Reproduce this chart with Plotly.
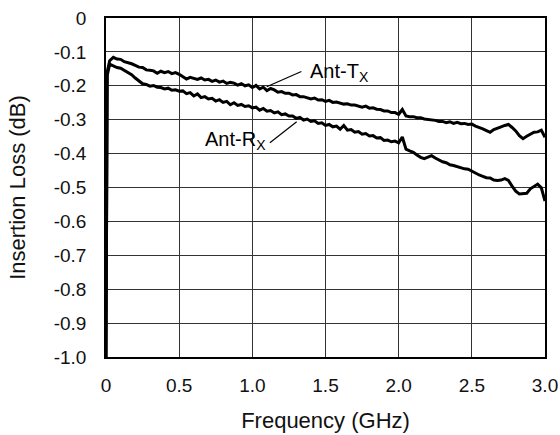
import plotly.graph_objects as go

FREQ = [0.0, 0.008,
        0.025, 0.05, 0.075, 0.10, 0.125, 0.15, 0.175, 0.20, 0.225, 0.25,
        0.275, 0.30, 0.325, 0.35, 0.375, 0.40, 0.425, 0.45, 0.475, 0.50,
        0.525, 0.55, 0.575, 0.60, 0.625, 0.65, 0.675, 0.70, 0.725, 0.75,
        0.775, 0.80, 0.825, 0.85, 0.875, 0.90, 0.925, 0.95, 0.975, 1.00,
        1.025, 1.05, 1.075, 1.10, 1.125, 1.15, 1.175, 1.20, 1.225, 1.25,
        1.275, 1.30, 1.325, 1.35, 1.375, 1.40, 1.425, 1.45, 1.475, 1.50,
        1.525, 1.55, 1.575, 1.60, 1.625, 1.65, 1.675, 1.70, 1.725, 1.75,
        1.775, 1.80, 1.825, 1.85, 1.875, 1.90, 1.925, 1.95, 1.975, 2.00,
        2.025, 2.05, 2.075, 2.10, 2.125, 2.15, 2.175, 2.20, 2.225, 2.25,
        2.275, 2.30, 2.325, 2.35, 2.375, 2.40, 2.425, 2.45, 2.475, 2.50,
        2.525, 2.55, 2.575, 2.60, 2.625, 2.65, 2.675, 2.70, 2.725, 2.75,
        2.775, 2.80, 2.825, 2.85, 2.875, 2.90, 2.925, 2.95, 2.975, 3.00]

ANT_TX = [-1.0, -0.16,
          -0.126, -0.116, -0.121, -0.122, -0.129, -0.131, -0.135, -0.140, -0.145, -0.146,
          -0.153, -0.154, -0.156, -0.163, -0.157, -0.161, -0.158, -0.164, -0.161, -0.166,
          -0.172, -0.180, -0.175, -0.178, -0.181, -0.177, -0.183, -0.181, -0.187, -0.183,
          -0.189, -0.186, -0.193, -0.190, -0.192, -0.198, -0.194, -0.200, -0.197, -0.205,
          -0.199, -0.209, -0.204, -0.214, -0.208, -0.212, -0.219, -0.217, -0.222, -0.222,
          -0.227, -0.226, -0.232, -0.232, -0.235, -0.239, -0.236, -0.242, -0.241, -0.246,
          -0.243, -0.249, -0.248, -0.251, -0.254, -0.253, -0.257, -0.257, -0.259, -0.263,
          -0.260, -0.266, -0.265, -0.269, -0.270, -0.274, -0.274, -0.279, -0.279, -0.284,
          -0.270, -0.289, -0.291, -0.291, -0.294, -0.294, -0.298, -0.299, -0.302, -0.302,
          -0.305, -0.305, -0.309, -0.306, -0.311, -0.308, -0.312, -0.311, -0.314, -0.313,
          -0.319, -0.322, -0.327, -0.332, -0.337, -0.329, -0.326, -0.321, -0.317, -0.314,
          -0.323, -0.333, -0.347, -0.356, -0.349, -0.342, -0.337, -0.336, -0.331, -0.352]

ANT_RX = [-1.0, -0.17,
          -0.136, -0.141, -0.146, -0.148, -0.155, -0.160, -0.167, -0.177, -0.185, -0.194,
          -0.196, -0.201, -0.199, -0.204, -0.205, -0.209, -0.207, -0.213, -0.212, -0.216,
          -0.215, -0.223, -0.220, -0.230, -0.224, -0.235, -0.232, -0.239, -0.237, -0.245,
          -0.241, -0.249, -0.246, -0.256, -0.250, -0.258, -0.255, -0.261, -0.259, -0.265,
          -0.263, -0.272, -0.267, -0.275, -0.273, -0.280, -0.277, -0.285, -0.283, -0.289,
          -0.289, -0.296, -0.293, -0.301, -0.298, -0.305, -0.303, -0.311, -0.309, -0.317,
          -0.314, -0.321, -0.319, -0.328, -0.317, -0.331, -0.329, -0.337, -0.335, -0.343,
          -0.341, -0.348, -0.347, -0.354, -0.353, -0.361, -0.360, -0.365, -0.363, -0.368,
          -0.351, -0.387, -0.392, -0.396, -0.404, -0.411, -0.415, -0.410, -0.406, -0.413,
          -0.419, -0.424, -0.427, -0.433, -0.435, -0.439, -0.441, -0.445, -0.446, -0.452,
          -0.456, -0.463, -0.467, -0.471, -0.472, -0.478, -0.479, -0.478, -0.474, -0.479,
          -0.496, -0.511, -0.519, -0.519, -0.517, -0.504, -0.497, -0.490, -0.501, -0.540]

X_TICKS = [0, 0.5, 1.0, 1.5, 2.0, 2.5, 3.0]
X_TICK_TEXT = ["0", "0.5", "1.0", "1.5", "2.0", "2.5", "3.0"]
Y_TICKS = [0, -0.1, -0.2, -0.3, -0.4, -0.5, -0.6, -0.7, -0.8, -0.9, -1.0]
Y_TICK_TEXT = ["0", "-0.1", "-0.2", "-0.3", "-0.4", "-0.5", "-0.6", "-0.7", "-0.8", "-0.9", "-1.0"]

LABELS = ["Ant-T<sub>X</sub>", "Ant-R<sub>X</sub>"]
LABEL_POS = [(1.595, -0.16), (0.885, -0.362)]
LEADERS = [((1.335, -0.158), (1.098, -0.203)), ((1.12, -0.368), (1.303, -0.306))]

FONT = "Liberation Sans, Arial, Helvetica, sans-serif"

fig = go.Figure()
for name, vals in [("Ant-Tx", ANT_TX), ("Ant-Rx", ANT_RX)]:
    fig.add_trace(go.Scatter(x=FREQ, y=vals, mode="lines", name=name,
                             line=dict(color="black", width=3)))

for txt, (lx, ly) in zip(LABELS, LABEL_POS):
    fig.add_annotation(x=lx, y=ly, text=txt, showarrow=False,
                       font=dict(family=FONT, size=20, color="black"))
for (p0, p1) in LEADERS:
    fig.add_shape(type="line", x0=p0[0], y0=p0[1], x1=p1[0], y1=p1[1],
                  line=dict(color="black", width=1.2))

axis_common = dict(showgrid=True, gridcolor="#333333", gridwidth=1,
                   showline=True, mirror=True, linecolor="black", linewidth=1.5,
                   zeroline=False, ticks="outside", tickcolor="rgba(0,0,0,0)",
                   automargin=False,
                   tickfont=dict(family=FONT, size=19, color="#111"))

fig.update_xaxes(range=[0, 3], tickvals=X_TICKS, ticktext=X_TICK_TEXT, ticklen=10,
                 title=dict(text="Frequency (GHz)", font=dict(family=FONT, size=22, color="#111"),
                            standoff=18),
                 **axis_common)
fig.update_yaxes(range=[-1, 0], tickvals=Y_TICKS, ticktext=Y_TICK_TEXT, ticklen=14,
                 title=dict(text="Insertion Loss (dB)", font=dict(family=FONT, size=22, color="#111"),
                            standoff=22),
                 **axis_common)

fig.update_layout(width=560, height=435, margin=dict(l=106, r=15, t=18, b=78),
                  plot_bgcolor="white", paper_bgcolor="white", showlegend=False)

fig.write_html("out.html", config={"displayModeBar": False},
               post_script="document.body.style.margin='0';")
